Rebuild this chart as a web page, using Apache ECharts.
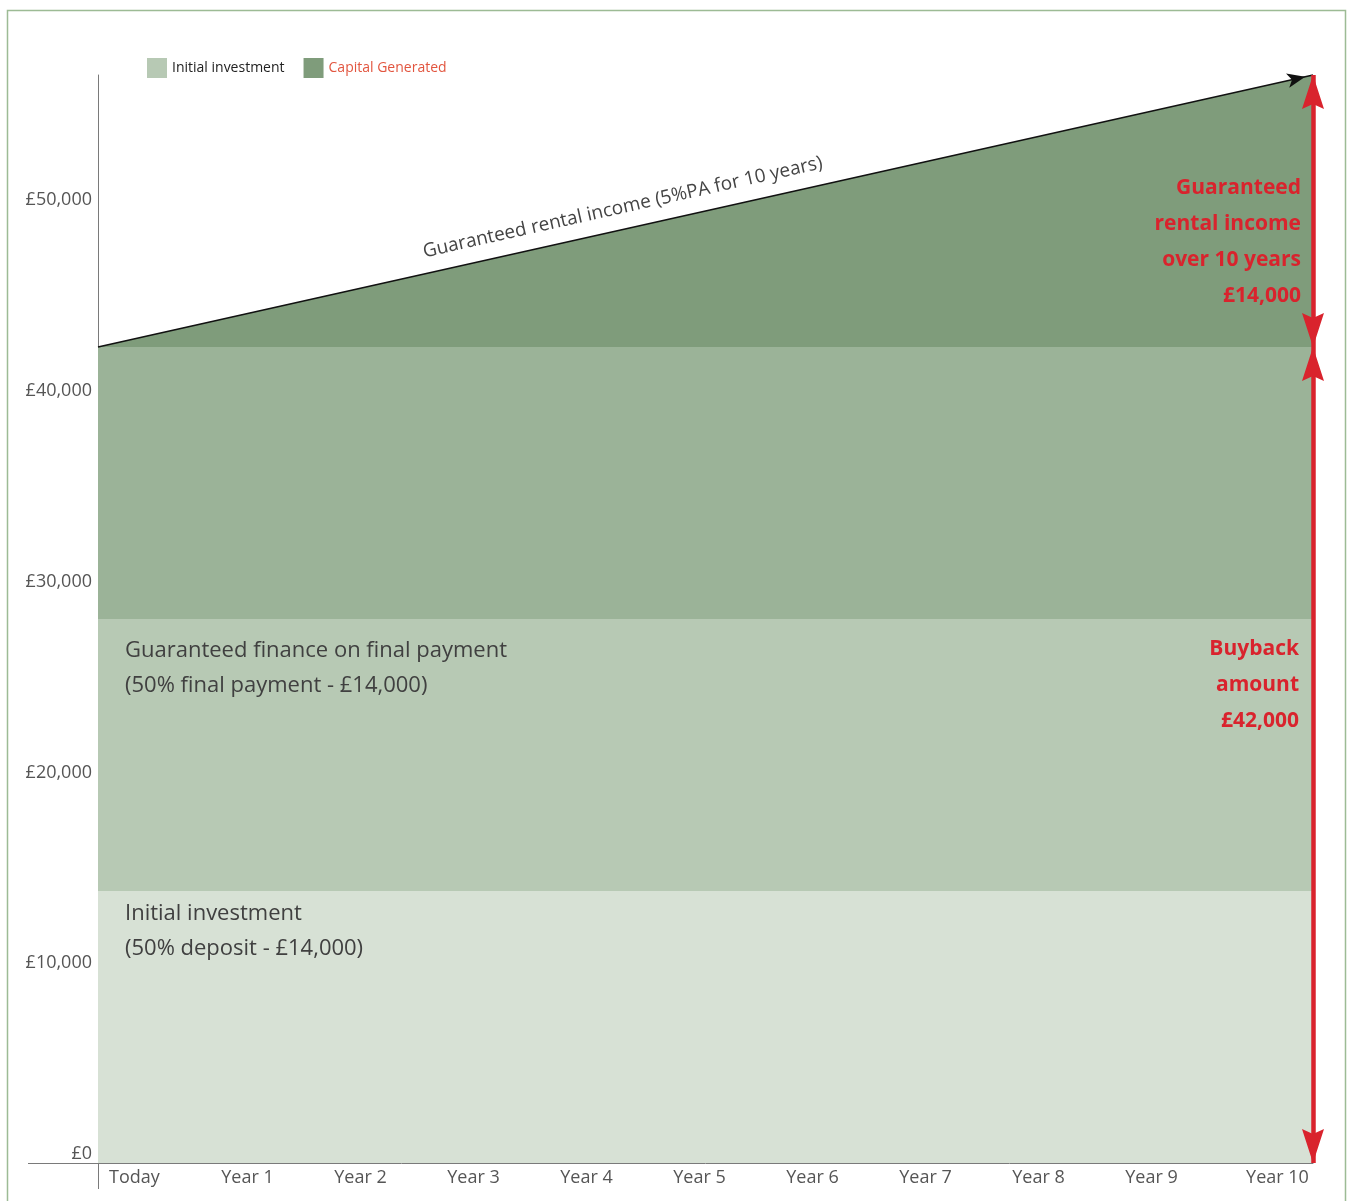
<!DOCTYPE html>
<html>
<head>
<meta charset="utf-8">
<script src="https://cdn.jsdelivr.net/npm/echarts@6/dist/echarts.min.js"></script>
<style>
html, body { margin: 0; padding: 0; background: #fff; }
#main { width: 1347px; height: 1201px; }
</style>
</head>
<body>
<div id="main"></div>
<script>
const years = ['Today', 'Year 1', 'Year 2', 'Year 3', 'Year 4', 'Year 5', 'Year 6', 'Year 7', 'Year 8', 'Year 9', 'Year 10']
const deposit = [14000, 14000, 14000, 14000, 14000, 14000, 14000, 14000, 14000, 14000, 14000]
const finalPayment = [14000, 14000, 14000, 14000, 14000, 14000, 14000, 14000, 14000, 14000, 14000]
const buybackGain = [14000, 14000, 14000, 14000, 14000, 14000, 14000, 14000, 14000, 14000, 14000]
const rental = [0, 1400, 2800, 4200, 5600, 7000, 8400, 9800, 11200, 12600, 14000]
const yTicks = [0, 10000, 20000, 30000, 40000, 50000]

const FONT = 'Open Sans'
const red = '#d9232d'

const buybackTotal = deposit.map((v, i) => v + finalPayment[i] + buybackGain[i])
const grandTotal = buybackTotal.map((v, i) => v + rental[i])
const last = years.length - 1

const chart = echarts.init(document.getElementById('main'))

const band = (name, data, color) => ({
  name,
  type: 'line',
  stack: 'total',
  data,
  showSymbol: false,
  silent: true,
  lineStyle: { width: 0 },
  areaStyle: { color, opacity: 1 },
  itemStyle: { color },
  z: 1
})

// arrow head pointing up, tip at the top edge
const redArrow = 'path://M11,0 L22,34 L11,29 L0,34 Z'
const redEnd = { symbol: redArrow, symbolSize: [22, 34], symbolOffset: [0, 17] }

chart.setOption({
  animation: false,
  textStyle: { fontFamily: FONT },
  legend: {
    left: 142,
    top: 53,
    itemWidth: 20,
    itemHeight: 20,
    itemGap: 19,
    icon: 'rect',
    textStyle: { fontSize: 14, fontFamily: FONT },
    data: [
      { name: 'Initial investment', textStyle: { color: '#222' } },
      { name: 'Capital Generated', textStyle: { color: '#e2553f' } }
    ]
  },
  grid: [
    { left: 98, right: 34, top: 75, bottom: 38 },
    { left: 78, right: 26, top: 200, bottom: 47 }
  ],
  xAxis: [{
    gridIndex: 0,
    type: 'category',
    data: years,
    boundaryGap: false,
    axisLine: { lineStyle: { color: '#7a7a7a', width: 1 } },
    axisTick: { show: false },
    axisLabel: { show: false },
    splitLine: { show: false }
  }, {
    gridIndex: 1,
    type: 'category',
    data: years,
    boundaryGap: true,
    axisLine: { show: false },
    axisTick: { show: false },
    axisLabel: {
      interval: 0,
      hideOverlap: false,
      color: '#555',
      fontSize: 18,
      margin: 15,
      formatter: (v, i) => i === last ? '{end|' + v + '}' : v,
      rich: { end: { color: '#555', fontSize: 18, padding: [0, 0, 0, 26] } }
    },
    splitLine: { show: false }
  }],
  yAxis: [{
    gridIndex: 0,
    type: 'value',
    min: 0,
    max: grandTotal[last],
    axisLine: { show: true, lineStyle: { color: '#7a7a7a', width: 1 } },
    axisTick: { show: false },
    axisLabel: { show: false },
    splitLine: { show: false }
  }, {
    gridIndex: 1,
    type: 'value',
    min: yTicks[0],
    max: yTicks[yTicks.length - 1],
    interval: 10000,
    offset: -20,
    axisLine: { show: false },
    axisTick: { show: false },
    splitLine: { show: false },
    axisLabel: {
      color: '#555',
      fontSize: 18,
      margin: 6,
      formatter: v => '£' + v.toLocaleString('en-GB')
    }
  }],
  series: [
    band('Deposit', deposit, '#d7e1d5'),
    band('Initial investment', finalPayment, '#b7c9b4'),
    band('Buyback', buybackGain, '#9bb398'),
    band('Capital Generated', rental, '#7f9c7b'),
    {
      name: 'guide',
      type: 'line',
      data: grandTotal,
      showSymbol: false,
      silent: true,
      lineStyle: { width: 0, opacity: 0 },
      z: 5,
      markLine: {
        silent: true,
        animation: false,
        data: [
          [
            {
              coord: [years[0], buybackTotal[0]],
              symbol: 'none',
              lineStyle: { color: '#111', width: 1.5, type: 'solid' },
              label: {
                show: true,
                position: 'insideMiddleTop',
                formatter: 'Guaranteed rental income (5%PA for 10 years)',
                color: '#444',
                fontSize: 19,
                fontFamily: FONT,
                distance: 12,
                padding: [0, 160, 0, 0]
              }
            },
            { coord: [years[last], grandTotal[last]], symbol: 'arrow', symbolSize: [11, 18], symbolOffset: [0, 8] }
          ],
          [
            Object.assign({ coord: [years[last], grandTotal[last]], lineStyle: { color: red, width: 4.5, type: 'solid' }, label: { show: false } }, redEnd),
            Object.assign({ coord: [years[last], buybackTotal[last]] }, redEnd)
          ],
          [
            Object.assign({ coord: [years[last], buybackTotal[last]], lineStyle: { color: red, width: 4.5, type: 'solid' }, label: { show: false } }, redEnd),
            Object.assign({ coord: [years[last], 0] }, redEnd)
          ]
        ]
      }
    }
  ],
  graphic: [
    // outer frame
    { type: 'rect', silent: true, z: 100, shape: { x: 7.5, y: 10.5, width: 1338, height: 1200 }, style: { fill: 'none', stroke: '#9dbb95', lineWidth: 1.5 } },
    // axis extensions
    { type: 'line', silent: true, z: 100, shape: { x1: 28, y1: 1163.5, x2: 98, y2: 1163.5 }, style: { stroke: '#7a7a7a', lineWidth: 1 } },
    { type: 'line', silent: true, z: 100, shape: { x1: 98.5, y1: 1163, x2: 98.5, y2: 1189 }, style: { stroke: '#7a7a7a', lineWidth: 1 } },
    // band captions
    { type: 'text', silent: true, z: 100, x: 125, y: 633, style: { text: 'Guaranteed finance on final payment\n(50% final payment - £14,000)', font: '22px "' + FONT + '"', fill: '#404040', lineHeight: 35, verticalAlign: 'top' } },
    { type: 'text', silent: true, z: 100, x: 125, y: 896, style: { text: 'Initial investment\n(50% deposit - £14,000)', font: '22px "' + FONT + '"', fill: '#404040', lineHeight: 35, verticalAlign: 'top' } },
    // red captions
    { type: 'text', silent: true, z: 100, x: 1301, y: 170, style: { text: 'Guaranteed\nrental income\nover 10 years\n£14,000', font: 'bold 21px "' + FONT + '"', fill: red, lineHeight: 36, align: 'right', verticalAlign: 'top' } },
    { type: 'text', silent: true, z: 100, x: 1299, y: 631, style: { text: 'Buyback\namount\n£42,000', font: 'bold 21px "' + FONT + '"', fill: red, lineHeight: 36, align: 'right', verticalAlign: 'top' } }
  ]
})
</script>
</body>
</html>
